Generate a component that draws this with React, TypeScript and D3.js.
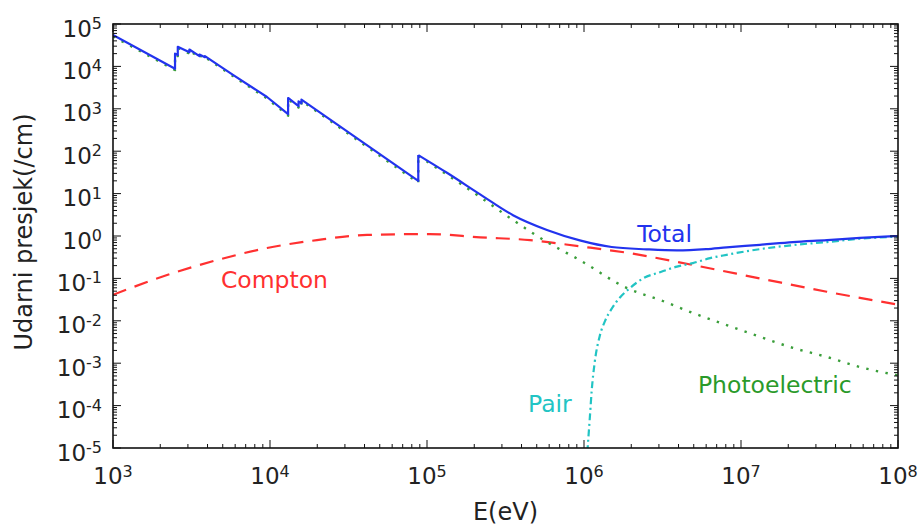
import React from "react";
import * as d3 from "d3";

// ---------- data ----------
const xDomain = [1e3, 1e8];
const yDomain = [1e-5, 1e5];
const xTickExps = [3, 4, 5, 6, 7, 8];
const yTickExps = [-5, -4, -3, -2, -1, 0, 1, 2, 3, 4, 5];

const kEdge = 8.8e4;

const totalE = [1e3, 2.484e3, 2.484e3, 2.586e3, 2.586e3, 3.066e3, 3.066e3, 3.554e3, 3.554e3, 3.851e3, 3.851e3, 5.81e3, 9.57e3, 1.304e4, 1.304e4, 1.52e4, 1.52e4, 1.586e4, 1.586e4, 8.8e4, 8.8e4, 1.34e5, 2.18e5, 3.53e5, 5.81e5, 9.4e5, 1.5e6, 2.5e6, 3.9e6, 6.0e6, 8.1e6, 1.32e7, 2.14e7, 3.53e7, 5.73e7, 1e8];
const totalV = [5.5e4, 8.8e3, 2.0e4, 1.85e4, 2.9e4, 2.15e4, 2.5e4, 1.75e4, 1.9e4, 1.65e4, 1.75e4, 6.3e3, 1.9e3, 7.5e2, 1.8e3, 1.15e3, 1.5e3, 1.35e3, 1.65e3, 20, 81, 31, 9.6, 3.1, 1.39, 0.79, 0.55, 0.485, 0.458, 0.49, 0.54, 0.62, 0.72, 0.8, 0.9, 1.0];

const photoE = [1e3, 2.484e3, 2.484e3, 2.586e3, 2.586e3, 3.066e3, 3.066e3, 3.554e3, 3.554e3, 3.851e3, 3.851e3, 5.81e3, 9.57e3, 1.304e4, 1.304e4, 1.52e4, 1.52e4, 1.586e4, 1.586e4, 8.8e4, 8.8e4, 1.34e5, 2.18e5, 3.53e5, 5.81e5, 9.4e5, 1.88e6, 3.05e6, 4.94e6, 8.1e6, 1.32e7, 2.14e7, 3.53e7, 5.73e7, 1e8];
const photoV = [5.1e4, 8.2e3, 1.9e4, 1.75e4, 2.75e4, 2.0e4, 2.35e4, 1.65e4, 1.8e4, 1.55e4, 1.65e4, 5.9e3, 1.75e3, 6.9e2, 1.68e3, 1.07e3, 1.4e3, 1.26e3, 1.55e3, 18, 77, 28, 8.3, 2.38, 0.72, 0.27, 0.059, 0.031, 0.0153, 0.0079, 0.0042, 0.0023, 0.0014, 8.1e-4, 5.2e-4];

const comptonE = [1e3, 2.21e3, 4.59e3, 9.57e3, 1.99e4, 4.15e4, 1.04e5, 2.18e5, 4.53e5, 9.4e5, 1.9e6, 4.94e6, 1.32e7, 3.52e7, 1e8];
const comptonV = [0.041, 0.12, 0.27, 0.52, 0.8, 1.06, 1.11, 0.93, 0.8, 0.57, 0.4, 0.207, 0.1, 0.0485, 0.024];

const pairE = [1.05e6, 1.09e6, 1.12e6, 1.17e6, 1.26e6, 1.36e6, 1.51e6, 1.69e6, 1.96e6, 2.38e6, 3.05e6, 3.91e6, 4.94e6, 6.35e6, 8.1e6, 1.32e7, 2.14e7, 3.53e7, 5.73e7, 1e8];
const pairV = [8e-6, 5.4e-5, 2.3e-4, 1.05e-3, 4.4e-3, 0.0098, 0.02, 0.035, 0.059, 0.1, 0.14, 0.19, 0.23, 0.3, 0.36, 0.49, 0.61, 0.72, 0.86, 0.97];

const labels = [
  { text: "Total", color: "#2233ee", e: 2.18e6, v: 0.71 },
  { text: "Compton", color: "#ff3030", e: 4.87e3, v: 0.059 },
  { text: "Pair", color: "#22c4c4", e: 4.4e5, v: 7.1e-5 },
  { text: "Photoelectric", color: "#2a9a2a", e: 5.32e6, v: 2.0e-4 },
];

// ---------- layout ----------
const W = 918;
const H = 528;
const L = 113, R = 898, T = 24, B = 448;
const FONT = "'DejaVu Sans', Verdana, sans-serif";

type P = [number, number];
const zip = (a: number[], b: number[]): P[] => a.map((v, i) => [v, b[i]]);

export default function App() {
  const x = d3.scaleLog().domain(xDomain).range([L, R]);
  const y = d3.scaleLog().domain(yDomain).range([B, T]);

  const lin = d3.line<P>().x(d => x(d[0])).y(d => y(d[1])).curve(d3.curveLinear);
  const mono = d3.line<P>().x(d => x(d[0])).y(d => y(d[1])).curve(d3.curveMonotoneX);

  const splitAtK = (E: number[], V: number[]) => {
    const pts = zip(E, V);
    const k = E.lastIndexOf(kEdge);
    return [lin(pts.slice(0, k + 1)) || "", mono(pts.slice(k)) || ""];
  };
  const [totA, totB] = splitAtK(totalE, totalV);
  const [phA, phB] = splitAtK(photoE, photoV);
  const comp = mono(zip(comptonE, comptonV)) || "";
  const pair = mono(zip(pairE, pairV)) || "";

  const xMinor: number[] = [];
  for (let d = 3; d < 8; d++) for (let m = 2; m <= 9; m++) xMinor.push(m * Math.pow(10, d));
  const yMinor: number[] = [];
  for (let d = -5; d < 5; d++) for (let m = 2; m <= 9; m++) yMinor.push(m * Math.pow(10, d));

  const tickColor = "#111";
  const major = 8, minor = 4;

  return (
    <svg width={W} height={H} style={{ position: "absolute", left: 0, top: 0, background: "#fff" }} fontFamily={FONT}>
      <defs>
        <clipPath id="plot">
          <rect x={L} y={T} width={R - L} height={B - T} />
        </clipPath>
      </defs>
      <rect x={0} y={0} width={W} height={H} fill="#fff" />

      <g clipPath="url(#plot)" fill="none" strokeLinejoin="round">
        <path d={comp} stroke="#ff3030" strokeWidth={2.2} strokeDasharray="14,9" />
        <path d={phA} stroke="#3a9e3a" strokeWidth={2.4} strokeDasharray="2.4,7.4" />
        <path d={phB} stroke="#3a9e3a" strokeWidth={2.4} strokeDasharray="2.4,7.4" />
        <path d={pair} stroke="#22c4c4" strokeWidth={2.2} strokeDasharray="7,3.5,2,3.5" />
        <path d={totA} stroke="#2233ee" strokeWidth={2.2} />
        <path d={totB} stroke="#2233ee" strokeWidth={2.2} />
      </g>

      {/* ticks */}
      <g stroke={tickColor} strokeWidth={1}>
        {xTickExps.map(e => {
          const px = x(Math.pow(10, e));
          return (
            <g key={"xt" + e}>
              <line x1={px} x2={px} y1={B} y2={B - major} />
              <line x1={px} x2={px} y1={T} y2={T + major} />
            </g>
          );
        })}
        {xMinor.map((v, i) => {
          const px = x(v);
          return (
            <g key={"xm" + i}>
              <line x1={px} x2={px} y1={B} y2={B - minor} />
              <line x1={px} x2={px} y1={T} y2={T + minor} />
            </g>
          );
        })}
        {yTickExps.map(e => {
          const py = y(Math.pow(10, e));
          return (
            <g key={"yt" + e}>
              <line x1={L} x2={L + major} y1={py} y2={py} />
              <line x1={R} x2={R - major} y1={py} y2={py} />
            </g>
          );
        })}
        {yMinor.map((v, i) => {
          const py = y(v);
          return (
            <g key={"ym" + i}>
              <line x1={L} x2={L + minor} y1={py} y2={py} />
              <line x1={R} x2={R - minor} y1={py} y2={py} />
            </g>
          );
        })}
      </g>

      <rect x={L} y={T} width={R - L} height={B - T} fill="none" stroke="#111" strokeWidth={1.6} />

      {/* tick labels */}
      <g fill="#222">
        {xTickExps.map(e => (
          <text key={"xl" + e} x={x(Math.pow(10, e))} y={484} textAnchor="middle" fontSize={23}>
            <tspan>10</tspan>
            <tspan dy={-7.5} fontSize={16}>{String(e)}</tspan>
          </text>
        ))}
        {yTickExps.map(e => (
          <text key={"yl" + e} x={102} y={y(Math.pow(10, e)) + 12.5} textAnchor="end" fontSize={23}>
            <tspan>10</tspan>
            <tspan dy={-7.5} fontSize={16}>{String(e)}</tspan>
          </text>
        ))}
      </g>

      {/* axis labels */}
      <text x={(L + R) / 2} y={520} textAnchor="middle" fontSize={24} fill="#222">E(eV)</text>
      <text transform={`translate(32,${(T + B) / 2 - 4}) rotate(-90)`} textAnchor="middle" fontSize={24} fill="#222">
        Udarni presjek(/cm)
      </text>

      {/* series annotations */}
      {labels.map(l => (
        <text key={l.text} x={x(l.e)} y={y(l.v)} fontSize={23.5} fill={l.color}>
          {l.text}
        </text>
      ))}
    </svg>
  );
}
